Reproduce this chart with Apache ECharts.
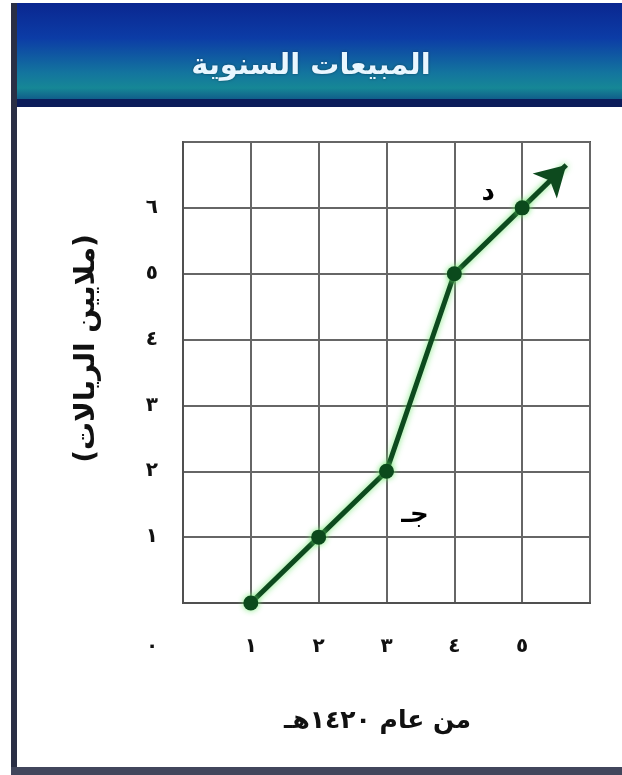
<!DOCTYPE html>
<html>
<head>
<meta charset="utf-8">
<script src="https://cdn.jsdelivr.net/npm/echarts@6/dist/echarts.min.js"></script>
<style>
html,body{margin:0;padding:0;background:#fff;}
#chart{width:622px;height:775px;}
</style>
</head>
<body>
<div id="chart"></div>
<script>
// ---- data ----
const chartTitle = 'المبيعات السنوية';
const xAxisTitle = 'من عام ١٤٢٠هـ';
const yAxisTitle = '(ملايين الريالات)';
const xTickLabels = ['٠', '١', '٢', '٣', '٤', '٥'];
const yTickLabels = ['', '١', '٢', '٣', '٤', '٥', '٦'];
const years = [1, 2, 3, 4, 5];
const sales = [0, 1, 2, 5, 6];
const arrowStart = [5, 6];
const arrowEnd = [5.65, 6.65];
const noteNames = ['جـ', 'د'];
const noteX = [3.42, 4.5];
const noteY = [1.34, 6.22];

const font = 'DejaVu Sans';
const chart = echarts.init(document.getElementById('chart'), null, {renderer: 'canvas'});

const option = {
  animation: false,
  backgroundColor: '#ffffff',
  graphic: [
    {type: 'rect', z: 0, shape: {x: 12, y: 3, width: 610, height: 100},
     style: {fill: new echarts.graphic.LinearGradient(0, 0, 0, 1, [
       {offset: 0, color: '#0a2790'},
       {offset: 0.35, color: '#0c3ca6'},
       {offset: 0.7, color: '#13759e'},
       {offset: 0.85, color: '#168796'},
       {offset: 1, color: '#0e4e86'}])}},
    {type: 'rect', z: 0, shape: {x: 12, y: 99, width: 610, height: 8}, style: {fill: '#0b1c5a'}},
    {type: 'rect', z: 0, shape: {x: 11, y: 3, width: 6, height: 772}, style: {fill: '#2a2f45'}},
    {type: 'rect', z: 0, shape: {x: 11, y: 767, width: 611, height: 8}, style: {fill: '#41465c'}}
  ],
  title: {
    text: chartTitle,
    left: 'center',
    top: 47,
    textStyle: {color: '#e9f6ff', fontSize: 29, fontWeight: 'bold', fontFamily: font,
      textShadowColor: 'rgba(0,0,0,0.4)', textShadowBlur: 3}
  },
  grid: {left: 183, right: 32, top: 142, bottom: 172, show: true,
    borderColor: '#505050', borderWidth: 2, backgroundColor: 'transparent'},
  xAxis: {
    type: 'value', min: 0, max: 6, interval: 1,
    name: xAxisTitle, nameLocation: 'middle', nameGap: 106,
    nameTextStyle: {color: '#111', fontSize: 25, fontWeight: 'bold', fontFamily: font, padding: [0, 18, 0, 0]},
    axisLine: {show: true, lineStyle: {color: '#505050', width: 2}},
    axisTick: {show: false},
    splitLine: {show: true, lineStyle: {color: '#666', width: 2}},
    axisLabel: {
      margin: 34, color: '#111', fontSize: 20, fontWeight: 'bold', fontFamily: font,
      formatter: function (v) {
        const i = Math.round(v);
        if (i === 0) return '{z|' + xTickLabels[0] + '}';
        return xTickLabels[i] !== undefined ? xTickLabels[i] : '';
      },
      rich: {z: {padding: [0, 62, 0, 0], color: '#111', fontSize: 20, fontWeight: 'bold', fontFamily: font}}
    }
  },
  yAxis: {
    type: 'value', min: 0, max: 7, interval: 1,
    name: yAxisTitle, nameLocation: 'middle', nameRotate: 90, nameGap: 82,
    nameTextStyle: {color: '#111', fontSize: 28, fontWeight: 'bold', fontFamily: font, padding: [0, 0, 0, 48]},
    axisLine: {show: true, lineStyle: {color: '#505050', width: 2}},
    axisTick: {show: false},
    splitLine: {show: true, lineStyle: {color: '#666', width: 2}},
    axisLabel: {
      margin: 25, color: '#111', fontSize: 20, fontWeight: 'bold', fontFamily: font,
      formatter: function (v) {
        const i = Math.round(v);
        return yTickLabels[i] !== undefined ? yTickLabels[i] : '';
      }
    }
  },
  series: [
    {
      type: 'line', clip: false,
      data: years.map((x, i) => [x, sales[i]]),
      symbol: 'circle', symbolSize: 15,
      itemStyle: {color: '#0b4a1c', shadowColor: 'rgba(110,230,110,0.9)', shadowBlur: 6},
      lineStyle: {color: '#0d4a1e', width: 5, shadowColor: 'rgba(110,230,110,0.9)', shadowBlur: 6},
      markLine: {
        silent: true, symbol: ['none', 'arrow'], symbolSize: [26, 30],
        label: {show: false},
        lineStyle: {color: '#0d4a1e', width: 5, type: 'solid', shadowColor: 'rgba(110,230,110,0.9)', shadowBlur: 6},
        data: [[{coord: arrowStart}, {coord: arrowEnd}]]
      },
      z: 5
    },
    {
      type: 'scatter', clip: false,
      data: noteNames.map((n, i) => ({name: n, value: [noteX[i], noteY[i]]})),
      symbolSize: 0,
      itemStyle: {opacity: 1},
      label: {show: true, position: 'inside', formatter: '{b}', color: '#000',
        fontSize: 26, fontWeight: 'bold', fontFamily: font}
    }
  ]
};
chart.setOption(option);
</script>
</body>
</html>
